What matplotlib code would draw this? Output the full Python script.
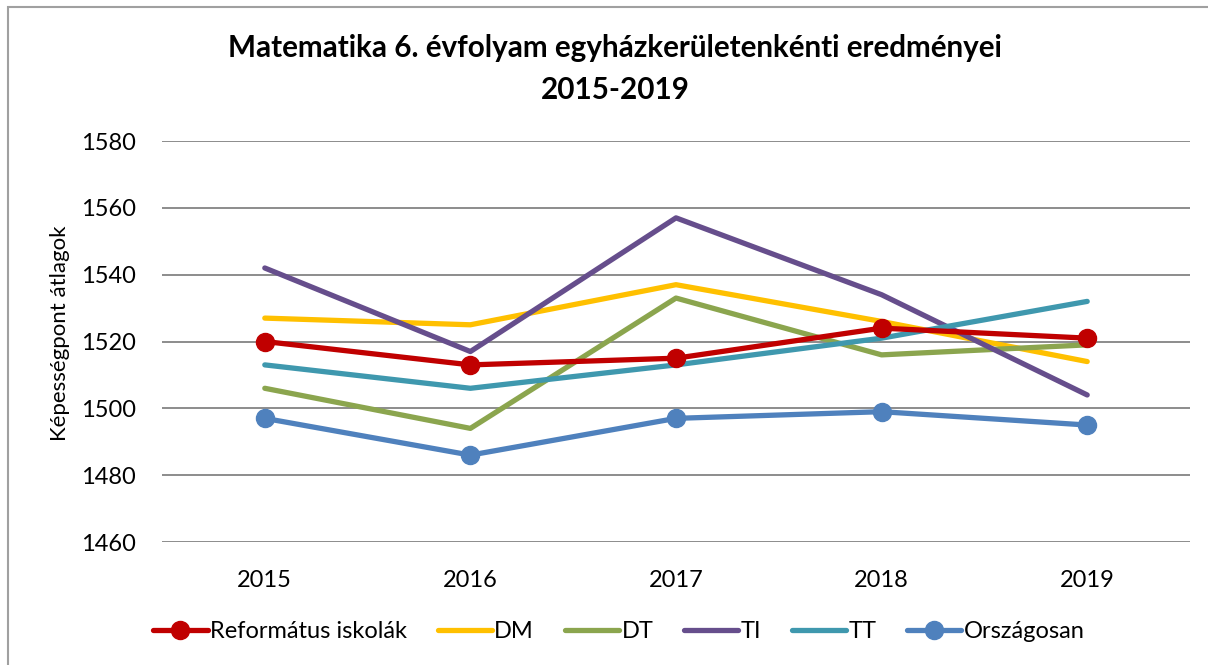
import matplotlib
matplotlib.use("Agg")
import matplotlib.pyplot as plt
from matplotlib.patches import Rectangle
import numpy as np

plt.rcParams['font.family'] = ['Lato', 'DejaVu Sans']

years = ['2015', '2016', '2017', '2018', '2019']

reformatus = [1520, 1513, 1515, 1524, 1521]
dm = [1527, 1525, 1537, 1526, 1514]
dt = [1506, 1494, 1533, 1516, 1519]
ti = [1542, 1517, 1557, 1534, 1504]
tt = [1513, 1506, 1513, 1521, 1532]
orszagosan = [1497, 1486, 1497, 1499, 1495]

x = np.arange(len(years))

fig = plt.figure(figsize=(12.08, 6.65), dpi=100)
ax = fig.add_axes([162 / 1208, 1 - 542 / 665, 1028 / 1208, 401 / 665])

lw = 3.8
ax.plot(x, dm, color='#FFC000', lw=lw, solid_capstyle='round', label='DM', zorder=3)
ax.plot(x, dt, color='#8BA54E', lw=lw, solid_capstyle='round', label='DT', zorder=3)
ax.plot(x, ti, color='#664E8C', lw=lw, solid_capstyle='round', label='TI', zorder=3)
ax.plot(x, tt, color='#3F98AE', lw=lw, solid_capstyle='round', label='TT', zorder=3)
ax.plot(x, orszagosan, color='#4F81BD', lw=lw, marker='o', ms=13, solid_capstyle='round',
        label='Országosan', zorder=3)
ax.plot(x, reformatus, color='#C00000', lw=lw, marker='o', ms=13, solid_capstyle='round',
        label='Református iskolák', zorder=4)

ax.set_xlim(-0.5, 4.5)
ax.set_ylim(1460, 1580)
ax.set_yticks(np.arange(1460, 1581, 20))
ax.set_xticks(x)
ax.set_xticklabels(years)
ax.tick_params(length=0, labelsize=17)
ax.tick_params(axis='x', pad=20)
ax.tick_params(axis='y', pad=19)
ax.grid(axis='y', color='#8C8C8C', lw=1.4)
ax.set_axisbelow(True)
for s in ax.spines.values():
    s.set_visible(False)

fig.text(60 / 1208, 1 - 333 / 665, 'Képességpont átlagok', rotation=90,
         ha='center', va='center', fontsize=16)

fig.text(615 / 1208, 1 - 48 / 665, 'Matematika 6. évfolyam egyházkerületenkénti eredményei',
         ha='center', va='center', fontsize=21.3, fontweight='bold')
fig.text(615 / 1208, 1 - 90 / 665, '2015-2019',
         ha='center', va='center', fontsize=21.3, fontweight='bold')

# legend in the original order
h, l = ax.get_legend_handles_labels()
order = ['Református iskolák', 'DM', 'DT', 'TI', 'TT', 'Országosan']
hd = dict(zip(l, h))
fig.legend([hd[k] for k in order], order, loc='center', bbox_to_anchor=(619 / 1208, 1 - 632 / 665),
           ncol=6, frameon=False, fontsize=17, handlelength=2.3, handletextpad=0.1,
           columnspacing=1.3)

# chart border
fig.patches.append(Rectangle((8 / 1208, -0.1), 1.2, 1 - 7 / 665 + 0.1, transform=fig.transFigure,
                             fill=False, edgecolor='#A0A0A0', lw=1.5))

fig.savefig('out.png', dpi=100)
